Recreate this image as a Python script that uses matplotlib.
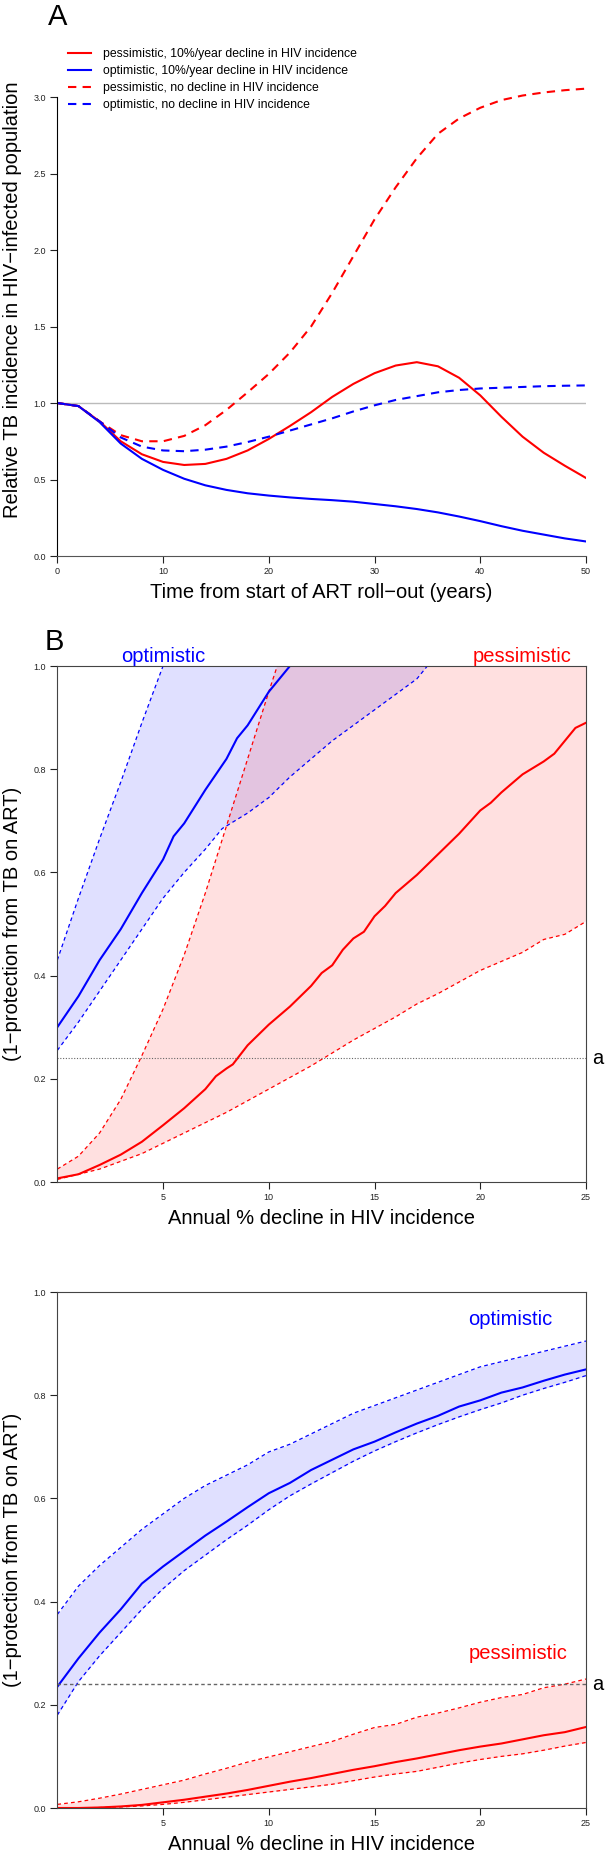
import matplotlib
matplotlib.use('Agg')
import numpy as np
import matplotlib.pyplot as plt
import matplotlib.transforms as mtransforms

plt.rcParams['font.family'] = ['Liberation Sans', 'DejaVu Sans']

# ---- panel A: relative TB incidence vs years since ART roll-out
years = [0, 2, 4, 6, 8, 10, 12, 14, 16, 18, 20, 22, 24, 26, 28, 30, 32, 34, 36, 38, 40, 42, 44, 46, 48, 50]
pess_decline = [1.0, 0.98, 0.88, 0.75, 0.665, 0.615, 0.595, 0.602, 0.635, 0.69, 0.765, 0.85, 0.94, 1.04, 1.125, 1.195, 1.245, 1.267, 1.24, 1.165, 1.05, 0.91, 0.78, 0.675, 0.59, 0.51]
opt_decline = [1.0, 0.98, 0.875, 0.735, 0.635, 0.563, 0.505, 0.462, 0.432, 0.41, 0.395, 0.383, 0.373, 0.365, 0.355, 0.34, 0.325, 0.307, 0.285, 0.258, 0.228, 0.195, 0.165, 0.14, 0.115, 0.095]
pess_flat = [1.0, 0.98, 0.88, 0.79, 0.75, 0.75, 0.785, 0.855, 0.955, 1.07, 1.19, 1.33, 1.5, 1.72, 1.96, 2.2, 2.41, 2.6, 2.76, 2.86, 2.93, 2.98, 3.01, 3.03, 3.045, 3.055]
opt_flat = [1.0, 0.98, 0.88, 0.775, 0.715, 0.69, 0.685, 0.695, 0.715, 0.745, 0.78, 0.82, 0.86, 0.9, 0.945, 0.985, 1.02, 1.045, 1.07, 1.085, 1.095, 1.1, 1.105, 1.11, 1.113, 1.115]
legend_labels = ['pessimistic, 10%/year decline in HIV incidence',
                 'optimistic, 10%/year decline in HIV incidence',
                 'pessimistic, no decline in HIV incidence',
                 'optimistic, no decline in HIV incidence']

# ---- panel B
b_opt_mid_x = [0, 1, 2, 3, 4, 5, 5.5, 6, 7, 8, 8.5, 9, 10, 10.5, 11]
b_opt_mid = [0.30, 0.36, 0.43, 0.49, 0.56, 0.625, 0.67, 0.695, 0.76, 0.82, 0.86, 0.885, 0.95, 0.975, 1.0]
b_opt_hi_x = [0, 1, 2, 3, 4, 5, 6]
b_opt_hi = [0.43, 0.55, 0.665, 0.775, 0.89, 1.0, 1.11]
b_opt_lo_x = [0, 1, 2, 3, 4, 5, 6, 7, 7.8, 9, 10, 11, 12, 13, 14, 15, 16, 17, 17.5, 18]
b_opt_lo = [0.255, 0.31, 0.37, 0.43, 0.49, 0.55, 0.6, 0.645, 0.685, 0.715, 0.745, 0.785, 0.82, 0.855, 0.885, 0.915, 0.945, 0.975, 1.0, 1.02]
b_pess_mid_x = [0, 1, 2, 3, 4, 5, 6, 7, 7.5, 8, 8.3, 9, 10, 11, 12, 12.5, 13, 13.5, 14, 14.5, 15, 15.5, 16, 17, 17.5, 18, 19, 20, 20.5, 21, 22, 23, 23.5, 24, 24.5, 25]
b_pess_mid = [0.007, 0.015, 0.033, 0.053, 0.078, 0.11, 0.143, 0.18, 0.205, 0.22, 0.228, 0.265, 0.305, 0.34, 0.38, 0.405, 0.42, 0.45, 0.472, 0.485, 0.515, 0.535, 0.56, 0.595, 0.615, 0.635, 0.675, 0.72, 0.735, 0.755, 0.79, 0.815, 0.83, 0.855, 0.88, 0.89]
b_pess_hi_x = [0, 1, 2, 3, 4, 5, 6, 7, 8, 9, 10, 10.4, 11]
b_pess_hi = [0.025, 0.05, 0.095, 0.16, 0.245, 0.335, 0.44, 0.56, 0.69, 0.82, 0.95, 1.0, 1.07]
b_pess_lo_x = [0, 2, 4, 6, 8, 10, 12, 14, 16, 17, 18, 20, 22, 23, 24, 25]
b_pess_lo = [0.005, 0.025, 0.055, 0.095, 0.135, 0.18, 0.225, 0.275, 0.32, 0.345, 0.365, 0.41, 0.445, 0.47, 0.48, 0.505]

# ---- panel C
c_x = list(range(26))
c_opt_mid = [0.235, 0.29, 0.34, 0.385, 0.435, 0.468, 0.498, 0.528, 0.555, 0.583, 0.61, 0.63, 0.655, 0.675, 0.695, 0.71, 0.728, 0.745, 0.76, 0.778, 0.79, 0.805, 0.815, 0.828, 0.84, 0.85]
c_opt_hi = [0.375, 0.43, 0.47, 0.505, 0.54, 0.57, 0.6, 0.625, 0.645, 0.665, 0.69, 0.705, 0.725, 0.745, 0.765, 0.78, 0.795, 0.81, 0.825, 0.84, 0.855, 0.865, 0.875, 0.885, 0.895, 0.905]
c_opt_lo = [0.18, 0.245, 0.295, 0.34, 0.385, 0.425, 0.46, 0.49, 0.52, 0.548, 0.578, 0.605, 0.628, 0.65, 0.672, 0.692, 0.71, 0.727, 0.743, 0.758, 0.772, 0.785, 0.8, 0.813, 0.825, 0.838]
c_pess_mid = [0, 0, 0.001, 0.003, 0.006, 0.011, 0.016, 0.022, 0.028, 0.035, 0.043, 0.051, 0.058, 0.066, 0.074, 0.081, 0.089, 0.096, 0.104, 0.112, 0.119, 0.125, 0.133, 0.141, 0.147, 0.157]
c_pess_hi = [0.007, 0.012, 0.019, 0.027, 0.036, 0.045, 0.054, 0.066, 0.077, 0.089, 0.099, 0.109, 0.119, 0.129, 0.143, 0.156, 0.162, 0.176, 0.184, 0.194, 0.205, 0.214, 0.22, 0.233, 0.24, 0.25]
c_pess_lo = [0, 0, 0.001, 0.002, 0.004, 0.007, 0.011, 0.016, 0.021, 0.026, 0.031, 0.036, 0.041, 0.046, 0.053, 0.06, 0.066, 0.071, 0.079, 0.087, 0.094, 0.1, 0.105, 0.112, 0.12, 0.127]

threshold = 0.24

W, H = 609, 1860
fig = plt.figure(figsize=(W / 100, H / 100), dpi=100)


def box(l, r, t, b):
    return [l / W, 1 - b / H, (r - l) / W, (b - t) / H]


def style_ticks(ax):
    ax.tick_params(direction='out', length=5, width=0.8, labelsize=6.5, pad=3,
                   colors='#222222')


LAB = 14.5
BLUE_FILL = (0, 0, 1, 0.12)
RED_FILL = (1, 0, 0, 0.12)

# ================= panel A
ax = fig.add_axes(box(57.3, 586, 40, 556))
ax.axhline(1.0, color='#bbbbbb', lw=1)
ax.plot(years, pess_decline, color='red', lw=1.5, label=legend_labels[0])
ax.plot(years, opt_decline, color='blue', lw=1.5, label=legend_labels[1])
ax.plot(years, pess_flat, color='red', lw=1.5, ls=(0, (4, 3)), label=legend_labels[2])
ax.plot(years, opt_flat, color='blue', lw=1.5, ls=(0, (4, 3)), label=legend_labels[3])
ax.set_xlim(0, 50)
ax.set_ylim(0, 3.373)
ax.set_xticks([0, 10, 20, 30, 40, 50])
ax.set_yticks([0, 0.5, 1.0, 1.5, 2.0, 2.5, 3.0])
ax.set_yticklabels(['0.0', '0.5', '1.0', '1.5', '2.0', '2.5', '3.0'])
for s in ['top', 'right']:
    ax.spines[s].set_visible(False)
ax.spines['left'].set_bounds(0, 3.0)
ax.spines['bottom'].set_bounds(0, 50)
ax.spines['bottom'].set_color('#555555')
style_ticks(ax)
ax.set_xlabel('Time from start of ART roll\u2212out (years)', fontsize=LAB)
ax.set_ylabel('Relative TB incidence in HIV\u2212infected population', fontsize=LAB)
ax.xaxis.set_label_coords(0.5, -0.0711)
ax.yaxis.set_label_coords(-0.0838, 0.496)
ax.xaxis.label.set_va('center')
ax.yaxis.label.set_va('center')
ax.legend(loc='upper left', bbox_to_anchor=(68 / W, 1 - 48 / H),
          bbox_transform=fig.transFigure, frameon=False, fontsize=8.8,
          handlelength=1.9, handletextpad=1.0, labelspacing=0.42,
          borderpad=0, borderaxespad=0)
fig.text(57.5 / W, 1 - 17 / H, 'A', fontsize=21, ha='center', va='center')

# ================= panel B
ax = fig.add_axes(box(57.3, 586, 666, 1182))
ax.set_xlim(0, 25)
ax.set_ylim(0, 1)
top = ax.get_ylim()[1]
ax.fill(np.concatenate([b_opt_lo_x, b_opt_hi_x[::-1]]),
        np.concatenate([b_opt_lo, b_opt_hi[::-1]]), color=BLUE_FILL, lw=0)
ax.fill(np.concatenate([b_pess_lo_x, [b_pess_lo_x[-1]], b_pess_hi_x[::-1]]),
        np.concatenate([b_pess_lo, [top], b_pess_hi[::-1]]), color=RED_FILL, lw=0)
ax.plot(b_opt_hi_x, b_opt_hi, color='blue', lw=0.9, ls=(0, (3, 2.5)))
ax.plot(b_opt_lo_x, b_opt_lo, color='blue', lw=0.9, ls=(0, (3, 2.5)))
ax.plot(b_pess_hi_x, b_pess_hi, color='red', lw=0.9, ls=(0, (3, 2.5)))
ax.plot(b_pess_lo_x, b_pess_lo, color='red', lw=0.9, ls=(0, (3, 2.5)))
ax.plot(b_opt_mid_x, b_opt_mid, color='blue', lw=1.5)
ax.plot(b_pess_mid_x, b_pess_mid, color='red', lw=1.5)
ax.axhline(threshold, color='#666666', lw=0.8, ls=(0, (1, 1.5)))
ax.set_xticks([5, 10, 15, 20, 25])
ax.set_yticks([0, 0.2, 0.4, 0.6, 0.8, 1.0])
ax.set_yticklabels(['0.0', '0.2', '0.4', '0.6', '0.8', '1.0'])
for s in ax.spines.values():
    s.set_color('#444444')
    s.set_linewidth(0.8)
style_ticks(ax)
ax.set_xlabel('Annual % decline in HIV incidence', fontsize=LAB)
ax.set_ylabel('(1\u2212protection from TB on ART)', fontsize=LAB)
ax.xaxis.set_label_coords(0.5, -0.071)
ax.yaxis.set_label_coords(-0.0838, 0.5)
ax.xaxis.label.set_va('center')
ax.yaxis.label.set_va('center')
ax.text(5, 1.0, 'optimistic', color='blue', fontsize=LAB, ha='center', va='bottom', clip_on=False)
ax.text(22, 1.0, 'pessimistic', color='red', fontsize=LAB, ha='center', va='bottom', clip_on=False)
trans = mtransforms.blended_transform_factory(ax.transAxes, ax.transData)
ax.text(1.011, threshold, 'a', transform=trans, fontsize=LAB, ha='left', va='center')
fig.text(54.4 / W, 1 - 641.7 / H, 'B', fontsize=21, ha='center', va='center')

# ================= panel C
ax = fig.add_axes(box(57.3, 586, 1292, 1808))
ax.set_xlim(0, 25)
ax.set_ylim(0, 1)
ax.fill_between(c_x, c_opt_lo, c_opt_hi, color=BLUE_FILL, lw=0)
ax.fill_between(c_x, c_pess_lo, c_pess_hi, color=RED_FILL, lw=0)
ax.plot(c_x, c_opt_hi, color='blue', lw=0.9, ls=(0, (3, 2.5)))
ax.plot(c_x, c_opt_lo, color='blue', lw=0.9, ls=(0, (3, 2.5)))
ax.plot(c_x, c_pess_hi, color='red', lw=0.9, ls=(0, (3, 2.5)))
ax.plot(c_x, c_pess_lo, color='red', lw=0.9, ls=(0, (3, 2.5)))
ax.plot(c_x, c_opt_mid, color='blue', lw=1.5)
ax.plot(c_x, c_pess_mid, color='red', lw=1.5)
ax.axhline(threshold, color='#666666', lw=1, ls=(0, (2.5, 2)))
ax.set_xticks([5, 10, 15, 20, 25])
ax.set_yticks([0, 0.2, 0.4, 0.6, 0.8, 1.0])
ax.set_yticklabels(['0.0', '0.2', '0.4', '0.6', '0.8', '1.0'])
for s in ax.spines.values():
    s.set_color('#444444')
    s.set_linewidth(0.8)
style_ticks(ax)
ax.set_xlabel('Annual % decline in HIV incidence', fontsize=LAB)
ax.set_ylabel('(1\u2212protection from TB on ART)', fontsize=LAB)
ax.xaxis.set_label_coords(0.5, -0.071)
ax.yaxis.set_label_coords(-0.0838, 0.5)
ax.xaxis.label.set_va('center')
ax.yaxis.label.set_va('center')
ax.text(21.4, 0.947, 'optimistic', color='blue', fontsize=LAB, ha='center', va='center')
ax.text(21.8, 0.30, 'pessimistic', color='red', fontsize=LAB, ha='center', va='center')
trans = mtransforms.blended_transform_factory(ax.transAxes, ax.transData)
ax.text(1.011, threshold, 'a', transform=trans, fontsize=LAB, ha='left', va='center', clip_on=False)

fig.savefig('out.png', dpi=100)
